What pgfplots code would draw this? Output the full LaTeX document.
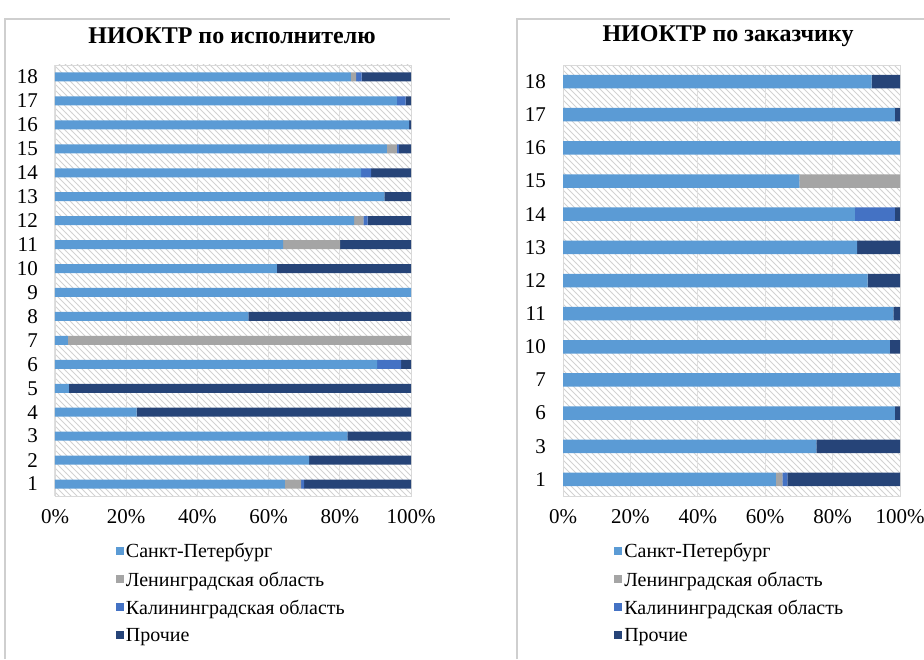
\documentclass[border=0pt]{standalone}
\usepackage{fontspec}
\setmainfont{Liberation Serif}
\usepackage{pgfplots}
\pgfplotsset{compat=1.18}
\usepackage{pgfplotstable}
\usetikzlibrary{patterns}
\definecolor{cspb}{HTML}{5B9BD5}
\definecolor{clen}{HTML}{A5A5A5}
\definecolor{ckal}{HTML}{4472C4}
\definecolor{coth}{HTML}{264478}
\definecolor{frame}{HTML}{CFCFCF}

\pgfplotstableread{
pos spb len kal oth
1 64.6 4.5 0.9 30.0
2 71.4 0 0 28.6
3 82.1 0 0 17.9
4 22.9 0 0 77.1
5 3.9 0 0 96.1
6 90.5 0 6.7 2.8
7 3.6 96.4 0 0
8 54.3 0 0 45.7
9 100 0 0 0
10 62.3 0 0 37.7
11 64.1 16.0 0 19.9
12 84.0 2.6 1.2 12.2
13 92.5 0 0 7.5
14 86.0 0 2.8 11.2
15 93.2 2.8 0.6 3.4
16 99.5 0 0 0.5
17 96.0 0 2.5 1.5
18 83.1 1.5 1.5 13.9
}\leftdata

\pgfplotstableread{
pos lab spb len kal oth
0 1 63.2 1.9 1.5 33.4
1 3 75.2 0 0 24.8
2 6 98.5 0 0 1.5
3 7 100 0 0 0
4 10 97.0 0 0 3.0
5 11 98.0 0 0 2.0
6 12 90.4 0 0 9.6
7 13 87.3 0 0 12.7
8 14 86.6 0 11.9 1.5
9 15 70.1 29.9 0 0
10 16 100 0 0 0
11 17 98.5 0 0 1.5
12 18 91.6 0 0 8.4
}\rightdata

\pgfplotsset{panel/.style={
  xbar stacked,
  scale only axis,
  height=215.5pt,
  anchor=south west,
  xmin=0, xmax=100,
  xtick={0,20,40,60,80,100},
  xticklabels={0\%,20\%,40\%,60\%,80\%,100\%},
  tick style={draw=none},
  xmajorgrids,
  grid style={gray!25, line width=0.5pt},
  axis line style={gray!30},
  axis background/.style={pattern=north west lines, pattern color=gray!35},
  tick label style={font=\fontsize{10.5}{12}\selectfont},
  xticklabel style={yshift=-3pt},
  yticklabel style={xshift=-5pt},
  /pgf/number format/assume math mode=true,
  legend style={draw=none, fill=none, font=\fontsize{10}{12}\selectfont,
    anchor=north west, row sep=3.5pt, inner sep=0pt,
    nodes={inner sep=1pt}},
  legend cell align=left,
  legend image code/.code={\fill[##1] (0pt,-1.2pt) rectangle (4pt,2.8pt);},
  every axis plot/.append style={draw=none},
}}

\begin{document}
\begin{tikzpicture}[x=1pt,y=1pt]
\useasboundingbox (0,0) rectangle (462,329.5);
% panel frames
\draw[frame, line width=0.8pt] (2.5,0) -- (2.5,320) -- (225,320);
\draw[frame, line width=0.8pt] (258.5,0) -- (258.5,320) -- (462,320);
% titles
\node[font=\bfseries\fontsize{12}{14}\selectfont] at (116,311.5) {НИОКТР по исполнителю};
\node[font=\bfseries\fontsize{12}{14}\selectfont] at (364,311.5) {НИОКТР по заказчику};

\begin{axis}[panel,
  at={(27.5pt,81.5pt)},
  width=178pt,
  ymin=0.5, ymax=18.5,
  ytick={1,...,18},
  bar width=4.5pt,
  legend style={at={(0.17,-0.105)}},
]
\addplot[fill=cspb] table[x=spb,y=pos]{\leftdata};
\addplot[fill=clen] table[x=len,y=pos]{\leftdata};
\addplot[fill=ckal] table[x=kal,y=pos]{\leftdata};
\addplot[fill=coth] table[x=oth,y=pos]{\leftdata};
\legend{Санкт-Петербург, Ленинградская область, Калининградская область, Прочие}
\end{axis}

\begin{axis}[panel,
  at={(281.5pt,81.5pt)},
  width=168.5pt,
  ymin=-0.5, ymax=12.5,
  ytick={0,...,12},
  yticklabels={1,3,6,7,10,11,12,13,14,15,16,17,18},
  bar width=6.75pt,
  legend style={at={(0.151,-0.105)}},
]
\addplot[fill=cspb] table[x=spb,y=pos]{\rightdata};
\addplot[fill=clen] table[x=len,y=pos]{\rightdata};
\addplot[fill=ckal] table[x=kal,y=pos]{\rightdata};
\addplot[fill=coth] table[x=oth,y=pos]{\rightdata};
\legend{Санкт-Петербург, Ленинградская область, Калининградская область, Прочие}
\end{axis}
\end{tikzpicture}
\end{document}
